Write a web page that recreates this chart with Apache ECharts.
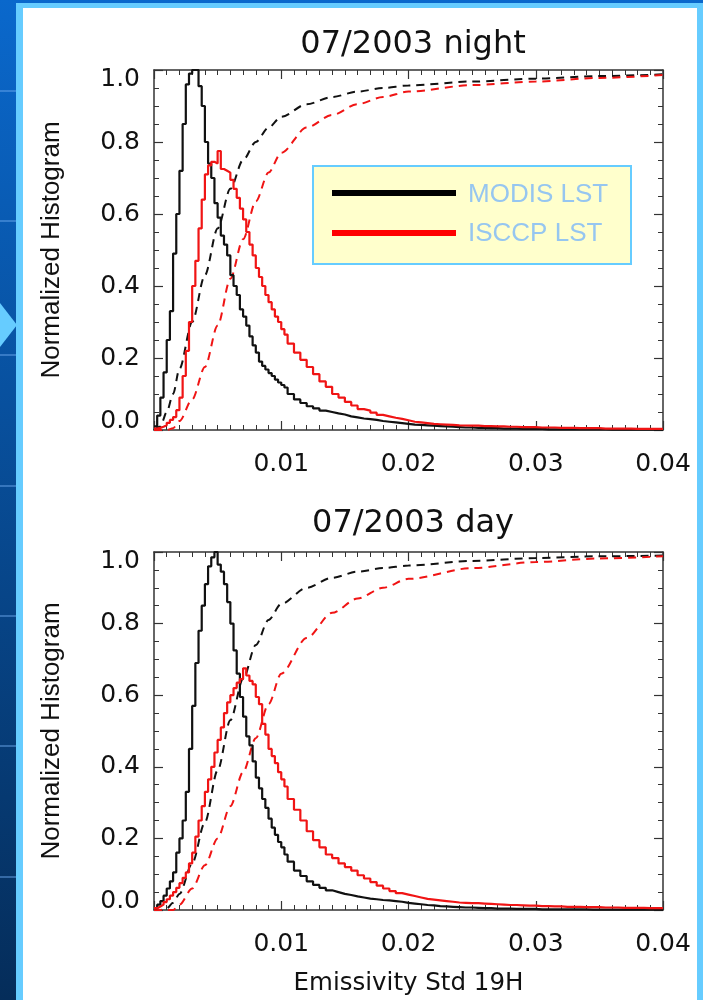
<!DOCTYPE html>
<html>
<head>
<meta charset="utf-8">
<script src="https://cdn.jsdelivr.net/npm/echarts@6/dist/echarts.min.js"></script>
<style>
  html, body { margin: 0; padding: 0; }
  #chart { width: 703px; height: 1000px; }
</style>
</head>
<body>
<div id="chart"></div>
<script>
// histogram bins: 0.00025 wide up to 0.0105, then 0.0005 wide up to 0.04
const FINE_BIN = 0.00025;
const FINE_END = 0.0105;
const COARSE_BIN = 0.0005;
const X_MAX = 0.04;

// 07/2003 night
const nightModisFine = [
  0.01, 0.04, 0.09, 0.16, 0.25, 0.33, 0.49, 0.60, 0.72, 0.85,
  0.96, 0.99, 1.0, 1.0, 0.955, 0.90, 0.80, 0.74, 0.70, 0.63,
  0.59, 0.54, 0.515, 0.485, 0.43, 0.40, 0.375, 0.335, 0.315, 0.29,
  0.26, 0.235, 0.215, 0.19, 0.178, 0.168, 0.158, 0.15, 0.14, 0.132,
  0.125, 0.118
];
const nightModisTail = [
  0.10, 0.085, 0.075, 0.066, 0.06, 0.054, 0.05, 0.046, 0.043, 0.038,
  0.035, 0.032, 0.03, 0.028, 0.025, 0.023, 0.021, 0.019, 0.017, 0.015,
  0.014, 0.013, 0.012, 0.011, 0.010, 0.009, 0.008, 0.007, 0.007, 0.006,
  0.006, 0.005, 0.005, 0.004, 0.004, 0.004, 0.003, 0.003, 0.003, 0.003,
  0.002, 0.002, 0.002, 0.002, 0.002, 0.002, 0.002, 0.002, 0.002, 0.002,
  0.001, 0.001, 0.001, 0.001, 0.001, 0.001, 0.001, 0.001, 0.001
];
const nightIsccpFine = [
  0.004, 0.006, 0.009, 0.013, 0.02, 0.028, 0.036, 0.055, 0.09, 0.15,
  0.22, 0.30, 0.40, 0.47, 0.56, 0.64, 0.71, 0.735, 0.745, 0.74,
  0.775, 0.725, 0.72, 0.715, 0.695, 0.67, 0.645, 0.615, 0.585, 0.55,
  0.515, 0.485, 0.45, 0.425, 0.40, 0.375, 0.355, 0.335, 0.315, 0.30,
  0.28, 0.265
];
const nightIsccpTail = [
  0.24, 0.215, 0.195, 0.175, 0.155, 0.135, 0.12, 0.10, 0.09, 0.078,
  0.068, 0.058, 0.054, 0.048, 0.042, 0.038, 0.034, 0.031, 0.027, 0.023,
  0.021, 0.019, 0.017, 0.016, 0.015, 0.014, 0.013, 0.0125, 0.012, 0.012,
  0.011, 0.011, 0.010, 0.010, 0.009, 0.009, 0.008, 0.008, 0.008, 0.007,
  0.007, 0.007, 0.006, 0.006, 0.006, 0.005, 0.005, 0.005, 0.005, 0.004,
  0.004, 0.004, 0.004, 0.004, 0.003, 0.003, 0.003, 0.003, 0.003
];

// 07/2003 day
const dayModisFine = [
  0.005, 0.015, 0.025, 0.04, 0.06, 0.08, 0.105, 0.16, 0.20, 0.25,
  0.33, 0.45, 0.57, 0.69, 0.78, 0.85, 0.91, 0.96, 0.985, 1.0,
  0.965, 0.945, 0.91, 0.86, 0.80, 0.725, 0.66, 0.595, 0.54, 0.485,
  0.46, 0.415, 0.37, 0.34, 0.31, 0.285, 0.255, 0.23, 0.21, 0.19,
  0.175, 0.155
];
const dayModisTail = [
  0.135, 0.11, 0.095, 0.08, 0.07, 0.062, 0.055, 0.05, 0.045, 0.042,
  0.038, 0.035, 0.032, 0.03, 0.028, 0.027, 0.025, 0.023, 0.02, 0.018,
  0.016, 0.014, 0.013, 0.011, 0.01, 0.009, 0.008, 0.007, 0.007, 0.006,
  0.005, 0.005, 0.004, 0.004, 0.004, 0.003, 0.003, 0.003, 0.003, 0.002,
  0.002, 0.002, 0.002, 0.002, 0.002, 0.002, 0.002, 0.001, 0.001, 0.001,
  0.001, 0.001, 0.001, 0.001, 0.001, 0.001, 0.001, 0.001, 0.001
];
const dayIsccpFine = [
  0.005, 0.01, 0.015, 0.022, 0.03, 0.04, 0.05, 0.062, 0.075, 0.09,
  0.105, 0.13, 0.16, 0.205, 0.25, 0.29, 0.33, 0.365, 0.40, 0.44,
  0.475, 0.51, 0.55, 0.58, 0.60, 0.62, 0.635, 0.645, 0.675, 0.655,
  0.64, 0.63, 0.595, 0.575, 0.52, 0.49, 0.45, 0.43, 0.41, 0.385,
  0.365, 0.345
];
const dayIsccpTail = [
  0.31, 0.28, 0.25, 0.22, 0.195, 0.175, 0.155, 0.145, 0.13, 0.12,
  0.11, 0.097, 0.088, 0.078, 0.068, 0.06, 0.053, 0.047, 0.043, 0.039,
  0.035, 0.031, 0.029, 0.027, 0.025, 0.023, 0.021, 0.02, 0.019, 0.019,
  0.018, 0.017, 0.016, 0.015, 0.014, 0.014, 0.013, 0.012, 0.012, 0.011,
  0.011, 0.01, 0.01, 0.009, 0.009, 0.009, 0.008, 0.008, 0.008, 0.007,
  0.007, 0.007, 0.006, 0.006, 0.006, 0.006, 0.005, 0.005, 0.005
];

// cumulative curves (dashed)
const cdfX = [0, 0.0005, 0.001, 0.0015, 0.002, 0.003, 0.004, 0.005, 0.006, 0.007, 0.008,
  0.009, 0.010, 0.012, 0.014, 0.016, 0.018, 0.020, 0.025, 0.030, 0.035, 0.040];
const nightModisCdf = [0, 0.01, 0.05, 0.10, 0.17, 0.30, 0.43, 0.56, 0.67, 0.75, 0.80,
  0.84, 0.87, 0.905, 0.925, 0.94, 0.95, 0.957, 0.968, 0.976, 0.983, 0.988];
const nightIsccpCdf = [0, 0, 0, 0.005, 0.025, 0.085, 0.175, 0.29, 0.42, 0.53, 0.635,
  0.715, 0.77, 0.84, 0.875, 0.905, 0.925, 0.94, 0.958, 0.968, 0.978, 0.986];
const dayModisCdf = [0, 0, 0.005, 0.02, 0.045, 0.13, 0.245, 0.39, 0.53, 0.645, 0.74,
  0.81, 0.855, 0.9, 0.928, 0.945, 0.955, 0.962, 0.975, 0.983, 0.988, 0.99];
const dayIsccpCdf = [0, 0, 0, 0, 0.015, 0.06, 0.125, 0.2, 0.29, 0.385, 0.48,
  0.575, 0.66, 0.76, 0.83, 0.87, 0.9, 0.925, 0.955, 0.972, 0.982, 0.988];

const titles = ["07/2003 night", "07/2003 day"];
const legendNames = ["MODIS LST", "ISCCP LST"];
const xName = "Emissivity Std 19H";
const yName = "Normalized Histogram";

const TICK_FONT = "DejaVu Sans";
const BLACK = "#111111";
const RED = "#f01414";

function histData(fine, tail) {
  let data = [];
  fine.forEach((v, i) => data.push([i * FINE_BIN, v]));
  tail.forEach((v, i) => data.push([FINE_END + i * COARSE_BIN, v]));
  data.push([X_MAX, tail[tail.length - 1]]); // close last step
  return data;
}
function cdfData(values) {
  return cdfX.map((x, i) => [x, values[i]]);
}

function xAxis(gridIndex, top, withName) {
  return {
    type: "value",
    gridIndex: gridIndex,
    position: top ? "top" : "bottom",
    min: 0,
    max: X_MAX,
    interval: 0.01,
    name: withName ? xName : "",
    nameLocation: "middle",
    nameGap: 61,
    nameTextStyle: { fontFamily: TICK_FONT, fontSize: 24.5, color: "#111" },
    axisLine: { onZero: false, lineStyle: { color: "#333", width: 1.5 } },
    axisTick: { inside: true, length: 9, lineStyle: { color: "#333", width: 1.2 } },
    minorTick: { show: true, splitNumber: 10, length: 5, lineStyle: { color: "#333", width: 1 } },
    splitLine: { show: false },
    axisLabel: {
      show: !top,
      showMinLabel: false,
      margin: 22,
      fontFamily: TICK_FONT,
      fontSize: 25,
      color: "#111",
      formatter: v => v.toFixed(2)
    }
  };
}
function yAxis(gridIndex, right) {
  return {
    type: "value",
    gridIndex: gridIndex,
    position: right ? "right" : "left",
    min: 0,
    max: 1,
    interval: 0.2,
    name: right ? "" : yName,
    nameLocation: "middle",
    nameGap: 89,
    nameTextStyle: { fontFamily: "Liberation Sans", fontSize: 26, color: "#111" },
    axisLine: { onZero: false, lineStyle: { color: "#333", width: 1.5 } },
    axisTick: { inside: true, length: 9, lineStyle: { color: "#333", width: 1.2 } },
    minorTick: { show: true, splitNumber: 4, length: 5, lineStyle: { color: "#333", width: 1 } },
    splitLine: { show: false },
    axisLabel: {
      show: !right,
      margin: 14,
      fontFamily: TICK_FONT,
      fontSize: 25,
      color: "#111",
      lineHeight: 18,
      verticalAlignMinLabel: "bottom",
      verticalAlignMaxLabel: "top",
      formatter: v => v.toFixed(1)
    }
  };
}
// grid 0 uses xAxis 0/1 and yAxis 0/1, grid 1 uses 2/3
function histSeries(name, fine, tail, color, gridIndex) {
  return {
    name: name,
    type: "line",
    step: "end",
    xAxisIndex: gridIndex * 2,
    yAxisIndex: gridIndex * 2,
    symbol: "none",
    lineStyle: { color: color, width: 2.2 },
    itemStyle: { color: color },
    data: histData(fine, tail)
  };
}
function cdfSeries(values, color, gridIndex) {
  return {
    type: "line",
    xAxisIndex: gridIndex * 2,
    yAxisIndex: gridIndex * 2,
    symbol: "none",
    smooth: 0.3,
    smoothMonotone: "x",
    lineStyle: { color: color, width: 2, type: [8, 6] },
    data: cdfData(values)
  };
}

const chart = echarts.init(document.getElementById("chart"), null, { renderer: "canvas" });

// slide decoration around the figure
let deco = [
  { type: "rect", z: -20, silent: true, shape: { x: 0, y: 0, width: 703, height: 1000 },
    style: { fill: new echarts.graphic.LinearGradient(0, 0, 0, 1, [
      { offset: 0, color: "#0a68cc" }, { offset: 1, color: "#052d5a" }]) } },
  { type: "rect", z: -19, silent: true, shape: { x: 16, y: 3, width: 687, height: 997 }, style: { fill: "#66ccff" } },
  { type: "rect", z: -18, silent: true, shape: { x: 23, y: 8, width: 674, height: 992 }, style: { fill: "#ffffff" } },
  { type: "polygon", z: -18, silent: true, shape: { points: [[0, 303], [17, 325], [0, 347]] }, style: { fill: "#66ccff" } }
];
[90, 220, 354, 485, 615, 745, 876].forEach(y => {
  deco.push({ type: "rect", z: -19, silent: true, shape: { x: 0, y: y, width: 16, height: 2 },
    style: { fill: "rgba(110,170,240,0.45)" } });
});

// legend box, drawn like the one pasted on the slide
const legendText = {
  font: "26px 'Liberation Sans'", fill: "#96c6f0", verticalAlign: "middle",
  textShadowColor: "rgba(30,30,30,0.9)", textShadowOffsetX: 1.5, textShadowOffsetY: 1.5
};
const legendBox = {
  type: "group", z: 50,
  children: [
    { type: "rect", shape: { x: 313, y: 166, width: 318, height: 98 },
      style: { fill: "#ffffcc", stroke: "#66ccff", lineWidth: 2 } },
    { type: "line", shape: { x1: 332, y1: 193, x2: 456, y2: 193 }, style: { stroke: "#000", lineWidth: 6 } },
    { type: "line", shape: { x1: 332, y1: 233, x2: 456, y2: 233 }, style: { stroke: "#ff0000", lineWidth: 6 } },
    { type: "text", style: Object.assign({ text: legendNames[0], x: 468, y: 195 }, legendText) },
    { type: "text", style: Object.assign({ text: legendNames[1], x: 468, y: 234 }, legendText) }
  ]
};

let option = {
  animation: false,
  backgroundColor: "transparent",
  title: [
    { text: titles[0], left: 408, top: 24, textAlign: "center",
      textStyle: { fontFamily: TICK_FONT, fontSize: 32, fontWeight: "normal", color: "#111" } },
    { text: titles[1], left: 408, top: 503, textAlign: "center",
      textStyle: { fontFamily: TICK_FONT, fontSize: 32, fontWeight: "normal", color: "#111" } }
  ],
  grid: [
    { left: 154, top: 70, width: 509, height: 360 },
    { left: 154, top: 552, width: 509, height: 358 }
  ],
  xAxis: [xAxis(0, false, false), xAxis(0, true, false), xAxis(1, false, true), xAxis(1, true, false)],
  yAxis: [yAxis(0, false), yAxis(0, true), yAxis(1, false), yAxis(1, true)],
  graphic: deco.concat([legendBox]),
  series: [
    cdfSeries(nightModisCdf, BLACK, 0),
    cdfSeries(nightIsccpCdf, RED, 0),
    histSeries(legendNames[0], nightModisFine, nightModisTail, BLACK, 0),
    histSeries(legendNames[1], nightIsccpFine, nightIsccpTail, RED, 0),
    cdfSeries(dayModisCdf, BLACK, 1),
    cdfSeries(dayIsccpCdf, RED, 1),
    histSeries(legendNames[0], dayModisFine, dayModisTail, BLACK, 1),
    histSeries(legendNames[1], dayIsccpFine, dayIsccpTail, RED, 1)
  ]
};
chart.setOption(option);
window.addEventListener("resize", () => chart.resize(), false);
</script>
</body>
</html>
